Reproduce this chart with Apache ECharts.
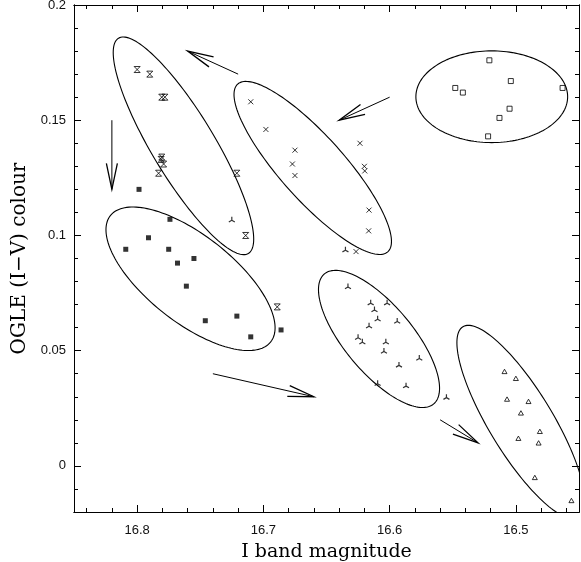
<!DOCTYPE html>
<html>
<head>
<meta charset="utf-8">
<script src="https://cdn.jsdelivr.net/npm/echarts@6/dist/echarts.min.js"></script>
<style>
html,body{margin:0;padding:0;background:#fff;}
#chart{width:581px;height:562px;}
</style>
</head>
<body>
<div id="chart"></div>
<script>
// ---- data (I magnitude, OGLE I-V colour) ----
const groupCrossBox = [[16.800,0.172],[16.790,0.170],[16.7805,0.160],[16.778,0.160],[16.7805,0.134],[16.781,0.133],[16.779,0.131],[16.783,0.127],[16.721,0.127],[16.714,0.100],[16.689,0.069]];
const groupCross = [[16.710,0.158],[16.698,0.146],[16.675,0.137],[16.677,0.131],[16.675,0.126],[16.6235,0.140],[16.620,0.130],[16.6197,0.128],[16.6163,0.111],[16.6166,0.102],[16.6266,0.093]];
const groupFilledSquare = [[16.7985,0.120],[16.774,0.107],[16.791,0.099],[16.809,0.094],[16.775,0.094],[16.755,0.090],[16.768,0.088],[16.761,0.078],[16.746,0.063],[16.721,0.065],[16.710,0.056],[16.686,0.059]];
const groupOpenSquare = [[16.521,0.176],[16.504,0.167],[16.548,0.164],[16.542,0.162],[16.463,0.164],[16.505,0.155],[16.513,0.151],[16.522,0.143]];
const groupTriStar = [[16.725,0.107],[16.635,0.094],[16.633,0.078],[16.615,0.071],[16.602,0.071],[16.612,0.068],[16.6095,0.064],[16.594,0.063],[16.6163,0.061],[16.625,0.056],[16.6216,0.054],[16.603,0.054],[16.6045,0.050],[16.5765,0.047],[16.5926,0.044],[16.6095,0.036],[16.587,0.035],[16.555,0.030]];
const groupTriangle = [[16.509,0.041],[16.500,0.038],[16.507,0.029],[16.490,0.028],[16.496,0.023],[16.481,0.015],[16.498,0.012],[16.482,0.010],[16.485,-0.005],[16.456,-0.015]];

// ellipses: centre, end of first conjugate semi-axis, end of second conjugate semi-axis (data units)
const ellipseCentres = [[16.7633,0.1389],[16.6609,0.1293],[16.5191,0.1602],[16.7577,0.0812],[16.6084,0.0551],[16.496,0.019]];
const ellipseAxisEnd1 = [[16.8147,0.1856],[16.7203,0.1657],[16.459,0.1602],[16.6942,0.0538],[16.6517,0.0833],[16.467,0.019]];
const ellipseAxisEnd2 = [[16.742,0.1459],[16.6419,0.1385],[16.5191,0.1801],[16.7364,0.096],[16.5878,0.0646],[16.4544,-0.023]];

// arrows: tail -> tip (data units)
const arrowTails = [[16.72,0.17],[16.82,0.15],[16.60,0.16],[16.74,0.04],[16.56,0.02]];
const arrowTips  = [[16.76,0.18],[16.82,0.12],[16.64,0.15],[16.66,0.03],[16.53,0.01]];

// ticks
const xMajorTicks = [16.5,16.6,16.7,16.8];
const xMinorTicks = [16.46,16.48,16.52,16.54,16.56,16.58,16.62,16.64,16.66,16.68,16.72,16.74,16.76,16.78,16.82,16.84];
const yMajorTicks = [0,0.05,0.1,0.15,0.2];
const yMinorTicks = [-0.01,0.01,0.02,0.03,0.04,0.06,0.07,0.08,0.09,0.11,0.12,0.13,0.14,0.16,0.17,0.18,0.19];

const xTitle = 'I band magnitude';
const yTitle = 'OGLE (I\u2212V) colour';

// ---- chart ----
const X_MIN = 16.45, X_MAX = 16.85, Y_MIN = -0.02, Y_MAX = 0.2;
const labelFont = {fontFamily:"'Liberation Sans', Arial, Helvetica, sans-serif", fontSize:13, color:'#111'};
const xTitleFont = {fontFamily:"'DejaVu Serif', serif", fontSize:19, color:'#000'};
const yTitleFont = {fontFamily:"'DejaVu Serif', serif", fontSize:20, color:'#000'};

function xAxisDef(pos, ticks, len, withLabel, withName){
  return {
    type:'value', position:pos, min:X_MIN, max:X_MAX, inverse:true,
    axisLine:{show:true, onZero:false, lineStyle:{color:'#000', width:1}},
    axisTick:{show:true, inside:true, length:len, customValues:ticks, lineStyle:{color:'#000', width:1}},
    axisLabel: withLabel ? Object.assign({show:true, margin:12, customValues:ticks}, labelFont) : {show:false},
    splitLine:{show:false},
    name: withName ? xTitle : '', nameLocation:'middle', nameGap:31, nameTextStyle:xTitleFont
  };
}
function yAxisDef(pos, ticks, len, withLabel, withName){
  return {
    type:'value', position:pos, min:Y_MIN, max:Y_MAX,
    axisLine:{show:true, onZero:false, lineStyle:{color:'#000', width:1}},
    axisTick:{show:true, inside:true, length:len, customValues:ticks, lineStyle:{color:'#000', width:1}},
    axisLabel: withLabel ? Object.assign({show:true, margin:8, customValues:ticks}, labelFont) : {show:false},
    splitLine:{show:false},
    name: withName ? yTitle : '', nameLocation:'middle', nameGap:42, nameRotate:90, nameTextStyle:yTitleFont
  };
}

const strokeStyle = {color:'none', borderColor:'#000', borderWidth:1};
function scatter(data, symbol, size, style){
  return {type:'scatter', xAxisIndex:0, yAxisIndex:0, data:data, symbol:symbol, symbolSize:size,
    symbolKeepAspect:true, itemStyle:style, silent:true, z:5};
}

const ellipseData = ellipseCentres.map((c,i)=>[c[0],c[1],ellipseAxisEnd1[i][0],ellipseAxisEnd1[i][1],ellipseAxisEnd2[i][0],ellipseAxisEnd2[i][1]]);
const arrowData = arrowTails.map((t,i)=>[t[0],t[1],arrowTips[i][0],arrowTips[i][1]]);

const option = {
  animation:false,
  backgroundColor:'#fff',
  grid:{left:74, right:2, top:5, bottom:50, containLabel:false, outerBoundsMode:'none'},
  xAxis:[
    xAxisDef('bottom', xMajorTicks, 7, true, true),
    xAxisDef('bottom', xMinorTicks, 4, false, false),
    xAxisDef('top', xMajorTicks, 7, false, false),
    xAxisDef('top', xMinorTicks, 4, false, false)
  ],
  yAxis:[
    yAxisDef('left', yMajorTicks, 7, true, true),
    yAxisDef('left', yMinorTicks, 4, false, false),
    yAxisDef('right', yMajorTicks, 7, false, false),
    yAxisDef('right', yMinorTicks, 4, false, false)
  ],
  series:[
    {
      type:'custom', xAxisIndex:0, yAxisIndex:0, data:ellipseData, clip:true, silent:true,
      encode:{x:[0,2,4], y:[1,3,5]},
      renderItem:function(params, api){
        const c = api.coord([api.value(0), api.value(1)]);
        const p = api.coord([api.value(2), api.value(3)]);
        const q = api.coord([api.value(4), api.value(5)]);
        const u = [p[0]-c[0], p[1]-c[1]], v = [q[0]-c[0], q[1]-c[1]];
        const pts = [];
        const N = 160;
        for (let i=0;i<=N;i++){
          const t = i/N*2*Math.PI;
          pts.push([c[0]+Math.cos(t)*u[0]+Math.sin(t)*v[0], c[1]+Math.cos(t)*u[1]+Math.sin(t)*v[1]]);
        }
        return {type:'polyline', shape:{points:pts}, style:{stroke:'#000', fill:null, lineWidth:1.1}};
      }
    },
    {
      type:'custom', xAxisIndex:0, yAxisIndex:0, data:arrowData, clip:true, silent:true,
      encode:{x:[0,2], y:[1,3]},
      renderItem:function(params, api){
        const a = api.coord([api.value(0), api.value(1)]);
        const b = api.coord([api.value(2), api.value(3)]);
        const dx = b[0]-a[0], dy = b[1]-a[1];
        const L = Math.sqrt(dx*dx+dy*dy);
        const ux = dx/L, uy = dy/L, px = -uy, py = ux;
        const hl = 26, hw = 5.5;
        const w1 = [b[0]-hl*ux+hw*px, b[1]-hl*uy+hw*py];
        const w2 = [b[0]-hl*ux-hw*px, b[1]-hl*uy-hw*py];
        return {type:'group', children:[
          {type:'line', shape:{x1:a[0], y1:a[1], x2:b[0], y2:b[1]}, style:{stroke:'#000', lineWidth:1}},
          {type:'polyline', shape:{points:[w1,b,w2]}, style:{stroke:'#000', fill:null, lineWidth:1.3}}
        ]};
      }
    },
    scatter(groupCrossBox, 'path://M0,0L8,0L0,8L8,8Z', 6, strokeStyle),
    scatter(groupCross, 'path://M0,0L8,8M8,0L0,8', 5, strokeStyle),
    scatter(groupFilledSquare, 'rect', 5, {color:'#000'}),
    scatter(groupOpenSquare, 'path://M0,0L8,0L8,8L0,8Z', 5, strokeStyle),
    scatter(groupTriStar, 'path://M4,0L4,4M4,4L0.54,6M4,4L7.46,6', 6, {color:'none', borderColor:'#000', borderWidth:1.2}),
    scatter(groupTriangle, 'path://M4,0L8,7L0,7Z', 5, strokeStyle)
  ]
};

const chart = echarts.init(document.getElementById('chart'), null, {renderer:'canvas'});
chart.setOption(option);
</script>
</body>
</html>
